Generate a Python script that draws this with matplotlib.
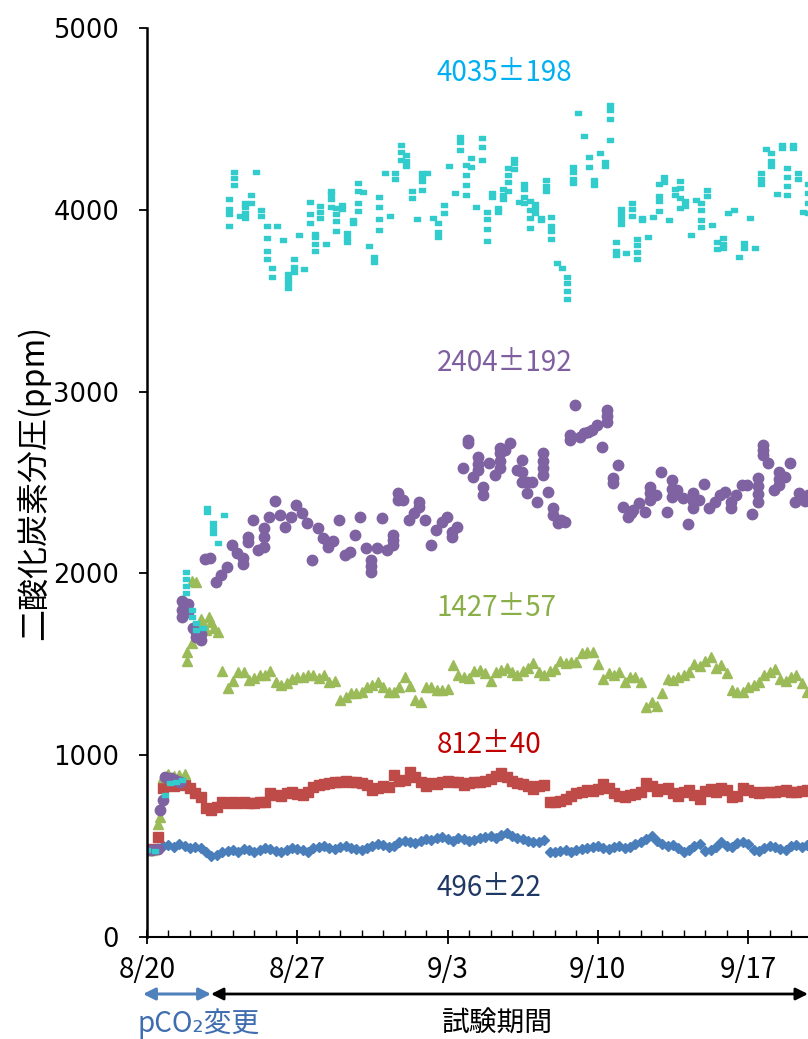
import numpy as np
import matplotlib
matplotlib.use("Agg")
import matplotlib.pyplot as plt
from matplotlib.path import Path
from matplotlib.ticker import MultipleLocator

# --- data (days after 8/20, ppm) ---
day_labels = ["8/20", "8/27", "9/3", "9/10", "9/17"]
day_ticks = [0, 7, 14, 21, 28]

# 496 +- 22 series, every 6 h
blue_vals = [
    475, 478, 482, 500,  505, 495, 510, 500,  488, 495, 490, 470,
    445, 450, 465, 475,  480, 470, 485, 478,  470, 480, 490, 482,
    475, 470, 480, 490,  485, 478, 470, 488,  495, 500, 490, 485,
    495, 500, 490, 485,  480, 490, 500, 510,  505, 495, 500, 520,
    530, 525, 515, 530,  540, 535, 545, 550,  540, 530, 545, 540,
    530, 535, 545, 550,  555, 545, 560, 570,  555, 545, 540, 530,
    525, 520, 535, 470,  465, 475, 480, 470,  478, 485, 490, 495,
    500, 490, 485, 495,  500, 490, 495, 510,  520, 540, 555, 530,
    510, 500, 505, 490,  470, 480, 500, 510,  475, 480, 495, 520,
    500, 495, 515, 525,  510, 480, 475, 490,  500, 495, 485, 480,
    500, 505, 495, 505,
]

# 812 +- 40 series, every 6 h
red_vals = [
    480, 485, 550, 820,  840, 830, 845, 835,  820, 790, 770, 710,
    700, 715, 745, 735,  740, 735, 740, 738,  735, 740, 745, 790,
    780, 775, 790, 800,  785, 780, 800, 825,  835, 840, 845, 855,
    850, 860, 855, 850,  845, 835, 810, 820,  830, 825, 890, 860,
    865, 905, 880, 850,  830, 845, 840, 850,  860, 855, 850, 835,
    845, 850, 855, 860,  870, 885, 900, 880,  860, 845, 840, 830,
    815, 830, 835, 740,  745, 750, 760, 775,  790, 800, 810, 805,
    815, 840, 820, 790,  775, 770, 780, 785,  800, 845, 830, 805,
    815, 820, 790, 775,  800, 810, 780, 760,  805, 815, 800, 820,
    810, 770, 775, 820,  810, 795, 790, 795,  800, 800, 805, 810,
    800, 795, 805, 810,
]

# 1427 +- 57 series: start-up phase, then every 6 h from day 3.5
green_start_days = [0, 0.25, 0.5, 0.6, 0.75, 1.0, 1.25, 1.5, 1.75, 1.85, 1.85,
                    2.1, 2.1, 2.3, 2.3, 2.5, 2.6, 2.75, 2.9, 3.0, 3.1, 3.3]
green_start_vals = [480, 480, 620, 660, 880, 895, 885, 890, 895, 1520, 1565,
                    1617, 1960, 1955, 1700, 1750, 1720, 1690, 1760, 1730, 1700, 1680]
green_vals = [
    1465, 1370,
    1410, 1460, 1455, 1415,  1425, 1440, 1440, 1465,  1405, 1385, 1395, 1420,
    1430, 1430, 1440, 1440,  1425, 1440, 1405, 1410,  1305, 1320, 1340, 1340,
    1350, 1375, 1385, 1405,  1375, 1350, 1350, 1375,  1430, 1380, 1305, 1295,
    1375, 1375, 1360, 1360,  1365, 1495, 1440, 1430,  1425, 1465, 1470, 1450,
    1410, 1455, 1470, 1480,  1455, 1440, 1465, 1480,  1505, 1460, 1440, 1465,
    1475, 1520, 1505, 1515,  1510, 1560, 1570, 1565,  1500, 1420, 1450, 1440,
    1455, 1405, 1430, 1430,  1400, 1265, 1290, 1270,  1340, 1420, 1415, 1430,
    1440, 1460, 1500, 1490,  1520, 1540, 1480, 1495,  1450, 1360, 1350, 1345,
    1375, 1385, 1400, 1440,  1460, 1475, 1420, 1410,  1430, 1440, 1395, 1345,
]

# 2404 +- 192 series (several readings share a time stamp)
purple_days = [0, 0.25, 0.5, 0.6, 0.75, 0.85, 1.1, 1.3, 1.55, 1.65, 1.9, 2.15, 2.3, 2.5,
               2.7, 2.93, 3.21, 3.45, 3.73, 3.96, 4.2, 4.47, 4.7, 4.94, 5.17, 5.45,
               5.68, 5.96, 6.19, 6.43, 6.7, 6.94, 7.22, 7.45, 7.69, 7.96, 8.2, 8.43,
               8.66, 8.94, 9.22, 9.46, 9.69, 9.92, 10.2, 10.43, 10.71, 10.95, 11.18,
               11.46, 11.69, 11.92, 12.2, 12.44, 12.67, 12.95, 13.23, 13.46, 13.74,
               13.97, 14.2, 14.44, 14.72, 14.95, 15.18, 15.42, 15.65, 15.93, 16.21,
               16.44, 16.67, 16.91, 17.23, 17.47, 17.7, 17.93, 18.16, 18.44, 18.68,
               18.91, 19.14, 19.3, 19.47, 19.7, 19.93, 20.17, 20.35, 20.55, 20.73,
               20.96, 21.19, 21.43, 21.7, 21.94, 22.17, 22.4, 22.52, 22.64, 22.92,
               23.2, 23.43, 23.71, 23.94, 24.22, 24.45, 24.69, 24.97, 25.2, 25.43,
               25.71, 25.94, 26.18, 26.46, 26.69, 26.92, 27.2, 27.43, 27.71, 27.95,
               28.18, 28.46, 28.69, 28.92, 29.2, 29.44, 29.72, 29.95, 30.18, 30.35,
               30.5, 30.65, 30.79]
purple_vals = [[480], [480], [482], [700], [755], [880], [875], [865], [850],
               [1760, 1800, 1850], [1830, 1790], [1700], [1680, 1650], [1635, 1665],
               [2080], [2085], [1953], [1990], [2035], [2156], [2110], [2085, 2050],
               [2170, 2200], [2293], [2128], [2145, 2200, 2250], [2310], [2398], [2321],
               [2255], [2310], [2376], [2332], [2277], [2073], [2250], [2195],
               [2145, 2170], [2180], [2293], [2100], [2118], [2211], [2310], [2140],
               [2008, 2040, 2073], [2140], [2305], [2128], [2156, 2185, 2211],
               [2404, 2442], [2404], [2293], [2332], [2365, 2393], [2293], [2156],
               [2238], [2282], [2310], [2200, 2230], [2255], [2580], [2717, 2733],
               [2530], [2570, 2600, 2640], [2430, 2475], [2607], [2541],
               [2580, 2620, 2660, 2690], [2680], [2717], [2568], [2500, 2560, 2623],
               [2442, 2500], [2500], [2392], [2541, 2580, 2620, 2662], [2447],
               [2320, 2360], [2277], [2293], [2285], [2733, 2760], [2926], [2750],
               [2770], [2780], [2790], [2816], [2695], [2832, 2865, 2898], [2497, 2525],
               [2596], [2365], [2310], [2330], [2350], [2387], [2338], [2404, 2440, 2475],
               [2431], [2557], [2338], [2420, 2465, 2513], [2459], [2414], [2272],
               [2360, 2400, 2442], [2404], [2491], [2360], [2392], [2431], [2447],
               [2360, 2392], [2431], [2486], [2486], [2326], [2392, 2435, 2480, 2525],
               [2651, 2680, 2706], [2607], [2459], [2486, 2520, 2557], [2530], [2607],
               [2392], [2442], [2420], [2400], [2430]]

# 4035 +- 198 series (several readings share a time stamp)
cyan_days = [0, 0.37, 0.84, 1.07, 1.35, 1.63, 1.8, 2.1, 2.3, 2.6, 2.8, 3.07, 3.3, 3.59,
             3.82, 4.05, 4.33, 4.56, 4.84, 5.08, 5.31, 5.59, 5.82, 6.05, 6.33, 6.57,
             6.85, 7.08, 7.31, 7.59, 7.82, 8.06, 8.34, 8.57, 8.8, 9.08, 9.32, 9.59,
             9.83, 10.06, 10.34, 10.57, 10.81, 11.09, 11.32, 11.55, 11.83, 12.06,
             12.34, 12.58, 12.81, 13.04, 13.32, 13.55, 13.83, 14.07, 14.35, 14.58,
             14.86, 15.09, 15.32, 15.6, 15.84, 16.07, 16.35, 16.58, 16.81, 17.09,
             17.33, 17.56, 17.84, 18.07, 18.35, 18.58, 18.82, 19.1, 19.33, 19.56,
             19.84, 20.07, 20.35, 20.59, 20.82, 21.1, 21.33, 21.57, 21.84, 22.08,
             22.31, 22.59, 22.82, 23.06, 23.34, 23.57, 23.85, 24.08, 24.31, 24.59,
             24.83, 25.06, 25.34, 25.57, 25.8, 26.08, 26.32, 26.55, 26.83, 27.06,
             27.34, 27.57, 27.81, 28.09, 28.32, 28.6, 28.83, 29.06, 29.34, 29.58,
             29.81, 30.09, 30.32, 30.55, 30.79]
cyan_vals = [[480], [473], [781], [847], [855], [863], [1892, 1930, 1970, 2007],
             [1760, 1800], [1688, 1727], [1700], [2340, 2360], [2222, 2250, 2277],
             [2167], [2321],
             [4059, 4004, 3977, 3911], [4208, 4175, 4136], [3966],
             [4037, 4015, 3982, 3955], [4081, 4037], [4208], [3966, 4000],
             [3911, 3845, 3773, 3729], [3630, 3680], [3911], [3834],
             [3647, 3619, 3597, 3570], [3729, 3685, 3658], [3861], [3674],
             [4043, 3977, 3927], [3866, 3850, 3812, 3773], [4021, 3988, 3955], [3812],
             [4103, 4087, 4059, 4015], [4010, 3977, 3938, 3883], [4004, 4026],
             [3872, 3845, 3823], [3927, 3944], [4147, 4103, 4037, 3993], [4098],
             [3801], [3713, 3740], [4070, 4015, 3949, 3889], [4202], [3966],
             [4202, 4169], [4356, 4318, 4274], [4301, 4268, 4241], [4103, 4065],
             [3949], [4202, 4180, 4158, 4109], [4202], [3955], [3927, 3878, 3850],
             [4026, 3982], [4241], [4092], [4400, 4372, 4329], [4246, 4191, 4136, 4081],
             [4285, 4235], [4015], [4394, 4345, 4274], [3988, 3949, 3894, 3828],
             [4092, 4070], [4010, 3988], [4114, 4081, 4059], [4230, 4191, 4153, 4103],
             [4279, 4257, 4224], [4043], [4142, 4114, 4070, 4037],
             [4048, 3999, 3955, 3900], [4032, 4010, 3982], [3955, 3944],
             [4164, 4131, 4103], [3960, 3911, 3883, 3839], [3707], [3680],
             [3630, 3597, 3553, 3509], [4235, 4208, 4169, 4147], [4532], [4406],
             [4290, 4235], [4164, 4136], [4312], [4263, 4241], [4576, 4549, 4499, 4384],
             [3823, 3773, 3751], [4004, 3977, 3949, 3922], [3762], [4037, 4004, 3966],
             [3839, 3806, 3768, 3729], [3955, 3944], [3850], [3960],
             [4142, 4076, 4048, 3993], [4180, 4153], [3944], [4114, 4081],
             [4158, 4120, 4065, 4010], [4048, 4021], [3861], [4054],
             [4037, 3999, 3944, 3905], [4109, 4076], [3916], [3823, 3784],
             [3845, 3812, 3790], [3982], [3999], [3740], [3817, 3790], [3955], [3790],
             [4202, 4169, 4142], [4334], [4312, 4268, 4241], [4087], [4356, 4340],
             [4230, 4180, 4131, 4081], [4356, 4340], [4202, 4169], [3988],
             [4142, 4092, 4037, 3982]]

labels = ["4035±198", "2404±192", "1427±57", "812±40", "496±22"]
label_y = [4750, 3160, 1810, 1056, 270]
label_colors = ["#00B0F0", "#7F5FA0", "#8AAE48", "#C00000", "#1F3864"]

# --- build series ---
blue_days = np.arange(len(blue_vals)) * 0.25
red_days = np.arange(len(red_vals)) * 0.25
green_days = np.concatenate([green_start_days, 3.5 + np.arange(len(green_vals)) * 0.25])
green_all = np.concatenate([green_start_vals, green_vals])
px = np.concatenate([[d] * len(v) for d, v in zip(purple_days, purple_vals)])
py = np.concatenate(purple_vals)
cx = np.concatenate([[d] * len(v) for d, v in zip(cyan_days, cyan_vals)])
cy = np.concatenate(cyan_vals)

# --- figure ---
W, H = 808, 1039
fig = plt.figure(figsize=(W / 100, H / 100), dpi=100)
px_per_day = 21.47
x0, ytop, ybot = 147, 28, 937
xmax = 35
ax = fig.add_axes([x0 / W, 1 - ybot / H, xmax * px_per_day / W, (ybot - ytop) / H])

ax.plot(blue_days, blue_vals, "D", ms=5, color="#4A7EBB", mec="#4A7EBB", ls="none")
ax.plot(red_days, red_vals, "s", ms=6.5, color="#BE4B48", ls="none")
ax.plot(green_days, green_all, "^", ms=7.5, color="#9BBB59", ls="none")
ax.plot(px, py, "o", ms=7.5, color="#7E62A1", ls="none")
rect = Path([(-1, -0.6), (1, -0.6), (1, 0.6), (-1, 0.6), (-1, -0.6)], closed=True)
ax.plot(cx, cy, marker=rect, ms=5.0, color="#33CCCC", ls="none")

ax.set_xlim(0, xmax)
ax.set_ylim(0, 5000)
ax.set_yticks(range(0, 5001, 1000))
ax.set_xticks(day_ticks)
ax.set_xticklabels(day_labels)
ax.xaxis.set_minor_locator(MultipleLocator(1))

for s in ["top", "right"]:
    ax.spines[s].set_visible(False)
ax.spines["left"].set_linewidth(1.8)
ax.spines["bottom"].set_linewidth(1.5)
ax.tick_params(axis="y", direction="out", length=6, width=1.3, pad=14, labelsize=18.5)
ax.tick_params(axis="x", which="major", direction="inout", length=10, width=1.3, pad=8,
               labelsize=20)
ax.tick_params(axis="x", which="minor", direction="in", length=5, width=1.0)
for t in ax.get_xticklabels():
    t.set_fontfamily(["Noto Sans CJK JP", "DejaVu Sans"])

ax.set_ylabel("二酸化炭素分圧(ppm)", fontsize=23, family=["Noto Sans CJK JP", "DejaVu Sans"])
ax.yaxis.set_label_coords((50 - x0) / (xmax * px_per_day), 0.5)

for txt, yv, col in zip(labels, label_y, label_colors):
    ax.text(13.5, yv, txt, color=col, fontsize=20, va="center", ha="left",
            family=["Noto Sans CJK JP", "DejaVu Sans"])

# period arrows under the axis
tr = ax.get_xaxis_transform()
ya = -(994 - ybot) / (ybot - ytop)
d_start = (143 - x0) / px_per_day
d_mid = (211 - x0) / px_per_day
d_end = (808 - x0) / px_per_day
ax.annotate("", xy=(d_start, ya), xytext=(d_mid, ya), xycoords=tr, textcoords=tr,
            arrowprops=dict(arrowstyle="<|-|>", color="#4F81BD", lw=2.2,
                            mutation_scale=18, shrinkA=0, shrinkB=0), annotation_clip=False)
ax.annotate("", xy=(d_mid, ya), xytext=(d_end, ya), xycoords=tr, textcoords=tr,
            arrowprops=dict(arrowstyle="<|-|>", color="black", lw=2.0,
                            mutation_scale=18, shrinkA=0, shrinkB=0), annotation_clip=False)
yt = -(1032 - ybot) / (ybot - ytop)
ax.text((137 - x0) / px_per_day, yt, "pCO₂変更", transform=tr, color="#3E6DB0",
        fontsize=20, ha="left", va="baseline", family=["Noto Sans CJK JP", "DejaVu Sans"])
ax.text((497 - x0) / px_per_day, yt, "試験期間", transform=tr, color="black",
        fontsize=20, ha="center", va="baseline", family=["Noto Sans CJK JP", "DejaVu Sans"])

fig.savefig("out.png", dpi=100)
